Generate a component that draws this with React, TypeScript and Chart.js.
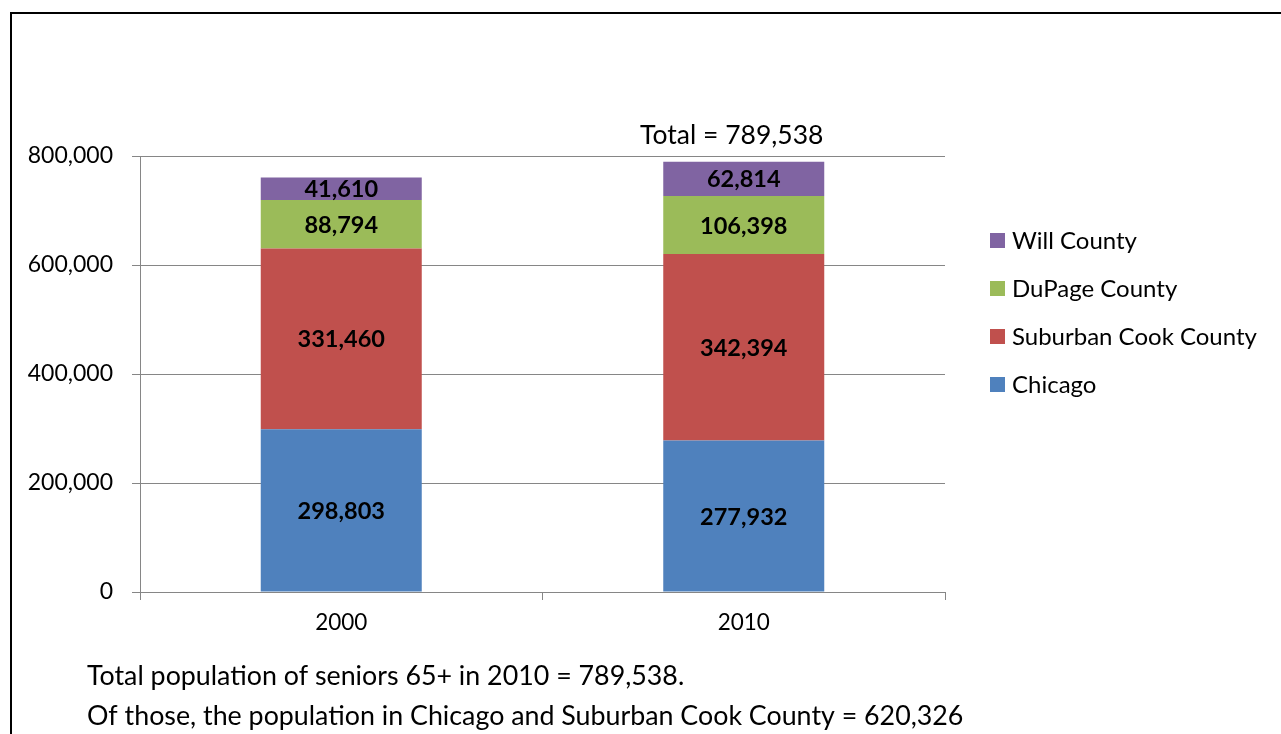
import React, { useEffect, useRef } from "react";
import { Chart, registerables } from "chart.js";

Chart.register(...registerables);

const categories = ["2000", "2010"];
const chicago = [298803, 277932];
const suburbanCook = [331460, 342394];
const dupage = [88794, 106398];
const will = [41610, 62814];
const yTicks = [0, 200000, 400000, 600000, 800000];
const seriesNames = ["Chicago", "Suburban Cook County", "DuPage County", "Will County"];
const seriesColors = ["#4F81BD", "#C0504D", "#9BBB59", "#8064A2"];
const totalLabel = "Total = 789,538";
const noteLines = [
  "Total population of seniors 65+ in 2010 = 789,538.",
  "Of those, the population in Chicago and Suburban Cook County = 620,326",
];

const FONT = "Lato, 'Open Sans', sans-serif";
const fmt = (v: number) => v.toLocaleString("en-US");

export default function App() {
  const ref = useRef<HTMLCanvasElement | null>(null);
  useEffect(() => {
    if (!ref.current) return;
    const overlay = {
      id: "overlay",
      afterDraw(chart: any) {
        const ctx = chart.ctx;
        ctx.save();
        // frame
        ctx.fillStyle = "#000";
        ctx.fillRect(10, 12, 1271, 2);
        ctx.fillRect(10, 12, 2, 722);
        // data labels
        ctx.font = `bold 23.5px ${FONT}`;
        ctx.textAlign = "center";
        ctx.textBaseline = "middle";
        ctx.fillStyle = "#000";
        chart.data.datasets.forEach((ds: any, di: number) => {
          const meta = chart.getDatasetMeta(di);
          meta.data.forEach((el: any, i: number) => {
            const p = el.getProps(["x", "y", "base"], true);
            ctx.fillText(fmt(ds.data[i]), p.x, (p.y + p.base) / 2 + 1);
          });
        });
        // total label over 2010
        const top = chart.getDatasetMeta(3).data[1].getProps(["x", "y"], true);
        ctx.font = `26.5px ${FONT}`;
        ctx.fillText(totalLabel, top.x - 12, top.y - 26);
        // legend
        const legendY = [384, 336, 288, 240];
        ctx.textAlign = "left";
        ctx.font = `24px ${FONT}`;
        seriesNames.forEach((name, i) => {
          ctx.fillStyle = seriesColors[i];
          ctx.fillRect(990, legendY[i] - 7, 15, 15);
          ctx.fillStyle = "#000";
          ctx.fillText(name, 1012, legendY[i] + 1);
        });
        // notes
        ctx.font = `26.8px ${FONT}`;
        noteLines.forEach((t, i) => {
          ctx.fillText(t, 87, 676 + i * 40);
        });
        ctx.restore();
      },
    };
    const mk = (label: string, data: number[], color: string) => ({
      label,
      data,
      backgroundColor: color,
      borderWidth: 0,
      barPercentage: 0.4,
      categoryPercentage: 1,
    });
    const chart = new Chart(ref.current, {
      type: "bar",
      data: {
        labels: categories,
        datasets: [
          mk(seriesNames[0], chicago, seriesColors[0]),
          mk(seriesNames[1], suburbanCook, seriesColors[1]),
          mk(seriesNames[2], dupage, seriesColors[2]),
          mk(seriesNames[3], will, seriesColors[3]),
        ],
      },
      options: {
        animation: false,
        responsive: false,
        maintainAspectRatio: false,
        layout: { padding: { left: 0, right: 336, top: 156, bottom: 92 } },
        plugins: { legend: { display: false }, tooltip: { enabled: false } },
        scales: {
          x: {
            stacked: true,
            offset: true,
            afterFit: (s: any) => { s.height = 50; },
            grid: {
              offset: true,
              drawOnChartArea: false,
              drawTicks: true,
              tickLength: 8,
              color: "#868686",
            },
            border: { color: "#868686", width: 1 },
            ticks: { color: "#000", font: { family: FONT, size: 22.5 }, padding: 9 },
          },
          y: {
            stacked: true,
            min: 0,
            max: 800000,
            afterFit: (s: any) => { s.width = 140; },
            afterBuildTicks: (s: any) => { s.ticks = yTicks.map((v) => ({ value: v })); },
            grid: { color: "#868686", tickLength: 8, drawTicks: true },
            border: { color: "#868686", width: 1 },
            ticks: {
              color: "#000",
              font: { family: FONT, size: 23 },
              padding: 19,
              callback: (v: any) => fmt(Number(v)),
            },
          },
        },
      },
      plugins: [overlay],
    });
    return () => chart.destroy();
  }, []);
  return (
    <div style={{ position: "fixed", left: 0, top: 0, width: 1281, height: 734, background: "#fff" }}>
      <canvas ref={ref} width={1281} height={734} style={{ display: "block" }} />
    </div>
  );
}
